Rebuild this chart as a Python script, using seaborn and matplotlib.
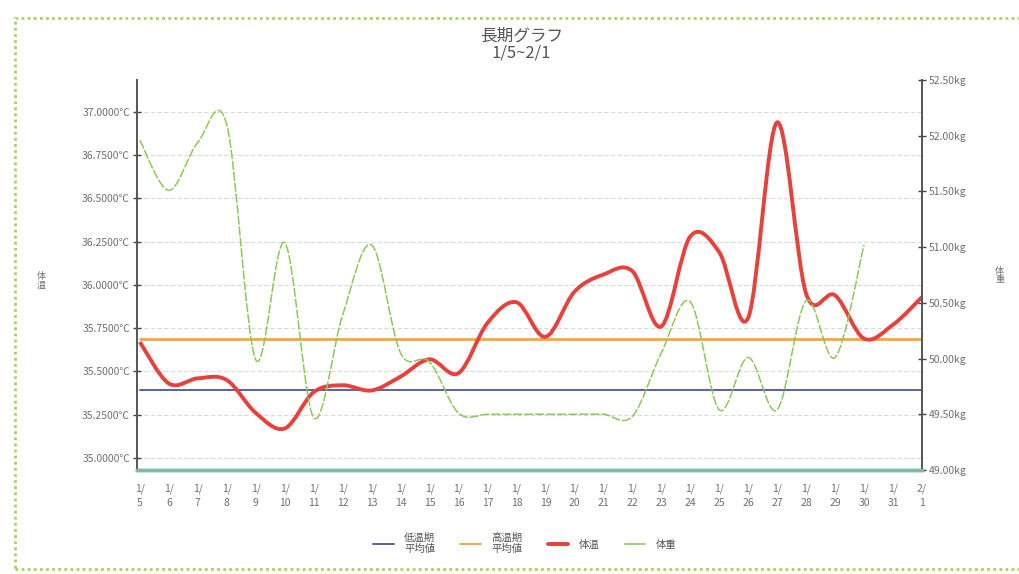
import numpy as np
import pandas as pd
import matplotlib
matplotlib.use("Agg")
import matplotlib.pyplot as plt
from matplotlib.path import Path
from matplotlib.patches import PathPatch, Rectangle
from matplotlib.lines import Line2D
import seaborn as sns

# dates 1/5 .. 2/1
dates = ["1/\n5", "1/\n6", "1/\n7", "1/\n8", "1/\n9", "1/\n10", "1/\n11",
         "1/\n12", "1/\n13", "1/\n14", "1/\n15", "1/\n16", "1/\n17", "1/\n18",
         "1/\n19", "1/\n20", "1/\n21", "1/\n22", "1/\n23", "1/\n24", "1/\n25",
         "1/\n26", "1/\n27", "1/\n28", "1/\n29", "1/\n30", "1/\n31", "2/\n1"]

# body temperature (left axis, ℃)
temp = [35.67, 35.43, 35.46, 35.45, 35.26, 35.17, 35.38, 35.42, 35.39, 35.47,
        35.57, 35.49, 35.78, 35.90, 35.70, 35.96, 36.06, 36.08, 35.76, 36.28,
        36.19, 35.81, 36.94, 35.95, 35.94, 35.69, 35.77, 35.93]

# body weight (right axis, kg)
weight = [51.96, 51.51, 51.94, 52.10, 49.99, 51.04, 49.47, 50.39, 51.02, 50.05,
          49.97, 49.51, 49.50, 49.50, 49.50, 49.50, 49.50, 49.48, 50.05, 50.51,
          49.54, 50.01, 49.54, 50.52, 50.01, 51.02, np.nan, np.nan]

low_avg = 35.39   # 低温期平均値
high_avg = 35.69  # 高温期平均値

temp_ticks = [35.00, 35.25, 35.50, 35.75, 36.00, 36.25, 36.50, 36.75, 37.00]
weight_ticks = [49.00, 49.50, 50.00, 50.50, 51.00, 51.50, 52.00, 52.50]

df = pd.DataFrame({"day": np.arange(len(dates)), "temp": temp, "weight": weight,
                   "low": low_avg, "high": high_avg})

sns.set_style("white")
plt.rcParams["font.family"] = ["Noto Sans CJK JP", "DejaVu Sans"]

RED = "#e8413c"
GREEN = "#8cc85a"
BLUE = "#5b5ea6"
ORANGE = "#f3a83b"
GRAY = "#707070"


def smooth_path(x, y):
    # Excel-like smoothed line as cubic bezier segments through the points
    x = np.asarray(x, float)
    y = np.asarray(y, float)
    n = len(x)
    verts = [(x[0], y[0])]
    codes = [Path.MOVETO]
    for i in range(n - 1):
        i0 = max(i - 1, 0)
        i3 = min(i + 2, n - 1)
        c1 = (x[i] + (x[i + 1] - x[i0]) / 6, y[i] + (y[i + 1] - y[i0]) / 6)
        c2 = (x[i + 1] - (x[i3] - x[i]) / 6, y[i + 1] - (y[i3] - y[i]) / 6)
        verts += [c1, c2, (x[i + 1], y[i + 1])]
        codes += [Path.CURVE4] * 3
    return Path(verts, codes)


fig = plt.figure(figsize=(10.19, 5.74), dpi=100)
fig.patch.set_facecolor("white")
ax = fig.add_axes([0.1344, 0.1812, 0.7704, 0.6794])
ax2 = ax.twinx()

ax.set_xlim(-0.1, len(dates) - 1)
ax.set_ylim(34.93, 37.185)
ax2.set_ylim(49.0, 52.5)

# gridlines on the temperature ticks
for t in temp_ticks:
    ax.axhline(t, color="#dadada", lw=0.8, ls=(0, (4, 2)), zorder=0)

sns.lineplot(data=df, x="day", y="low", ax=ax, color=BLUE, lw=1.4, zorder=2)
sns.lineplot(data=df, x="day", y="high", ax=ax, color=ORANGE, lw=2.0, zorder=2)

ax.add_patch(PathPatch(smooth_path(df["day"], df["temp"]), fill=False,
                       edgecolor=RED, lw=2.8, zorder=4))
wd = df.dropna(subset=["weight"])
ax2.add_patch(PathPatch(smooth_path(wd["day"], wd["weight"]), fill=False,
                        edgecolor=GREEN, lw=1.1, ls=(0, (6, 1.2)), zorder=3))

ax.set_xticks(df["day"])
ax.set_xticklabels(dates, fontsize=7.5, color=GRAY, linespacing=1.5)
ax.set_yticks(temp_ticks)
ax.set_yticklabels([f"{t:.4f}℃" for t in temp_ticks], fontsize=7.5, color=GRAY)
ax2.set_yticks(weight_ticks)
ax2.set_yticklabels([f"{w:.2f}kg" for w in weight_ticks], fontsize=7.5, color=GRAY)
ax.set_xlabel("")
ax.set_ylabel("")
ax2.set_ylabel("")

for a in (ax, ax2):
    a.spines["top"].set_visible(False)
    a.spines["left"].set_color("#555555")
    a.spines["right"].set_color("#555555")
    a.spines["left"].set_linewidth(1.2)
    a.spines["right"].set_linewidth(1.2)
    a.spines["bottom"].set_color("#7fb8a4")
    a.spines["bottom"].set_linewidth(2.5)
ax.tick_params(axis="x", direction="inout", length=7, width=1.2, color="#444444", pad=6)
ax.tick_params(axis="y", direction="inout", length=6, width=1, color="#444444", pad=2)
ax2.tick_params(axis="y", direction="inout", length=6, width=1, color="#444444", pad=2)

fig.text(0.512, 0.922, "長期グラフ\n1/5~2/1", ha="center", va="center",
         fontsize=12, color="#555555", linespacing=1.0)
fig.text(0.040, 0.51, "体\n温", ha="center", va="center", fontsize=6.5, color=GRAY,
         linespacing=1.0)
fig.text(0.981, 0.52, "体\n重", ha="center", va="center", fontsize=6.5, color=GRAY,
         linespacing=1.0)

handles = [Line2D([], [], color=BLUE, lw=1.4), Line2D([], [], color=ORANGE, lw=1.4),
           Line2D([], [], color=RED, lw=2.8), Line2D([], [], color=GREEN, lw=1.2)]
labels = ["低温期\n平均値", "高温期\n平均値", "体温", "体重"]
leg = fig.legend(handles, labels, loc="center", bbox_to_anchor=(0.515, 0.053),
                 ncol=4, frameon=False, fontsize=7.5, handlelength=2.0,
                 columnspacing=2.4, handletextpad=1.0)
for t in leg.get_texts():
    t.set_color("#555555")

# dotted page border
fig.patches.append(Rectangle((0.015, 0.008), 0.99, 0.96, transform=fig.transFigure,
                             fill=False, edgecolor="#a8d45a", lw=2.0,
                             ls=(0, (1, 1.2)), zorder=0))

fig.savefig("out.png", dpi=100)
